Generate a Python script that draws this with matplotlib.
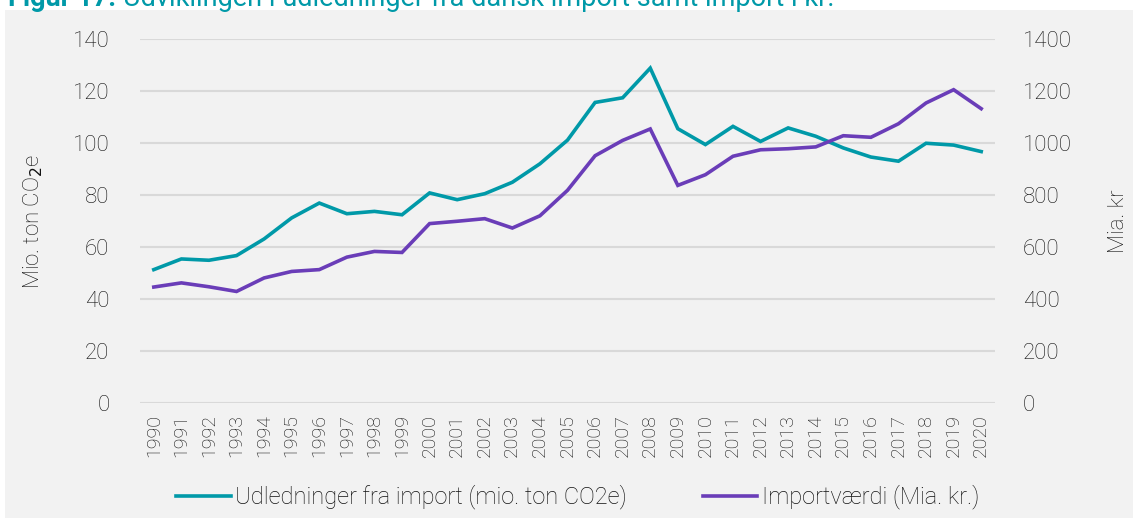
import matplotlib.pyplot as plt
from matplotlib.patches import Rectangle
import numpy as np

plt.rcParams['font.family'] = ['Roboto', 'DejaVu Sans']

years = list(range(1990, 2021))
udledning = [51.3, 55.4, 54.9, 56.7, 63.1, 71.2, 76.9, 72.8, 73.7, 72.4,
             80.8, 78.2, 80.5, 84.9, 92.0, 101.1, 115.6, 117.4, 128.8, 105.5,
             99.4, 106.4, 100.6, 105.8, 102.6, 98.1, 94.6, 93.0, 99.9, 99.2, 96.7]
importvaerdi = [446, 462, 447, 429, 481, 506, 513, 561, 583, 579,
                690, 699, 709, 673, 720, 818, 951, 1010, 1054, 837,
                878, 949, 974, 978, 985, 1028, 1022, 1074, 1154, 1205, 1132]

teal = '#0099A8'
purple = '#6A3DB8'
txt = '#111111'
lw_font = 'light'

fig = plt.figure(figsize=(11.33, 5.18), dpi=100)
fig.patches.append(Rectangle((5/1133, 0), 1, 1 - 10/518, transform=fig.transFigure,
                             facecolor='#F2F2F2', edgecolor='none', zorder=-5))

ax = fig.add_axes([140/1133, 1 - 403/518, 855/1133, 364/518])
ax.set_facecolor('none')
ax2 = ax.twinx()
ax2.set_facecolor('none')

x = np.arange(len(years))
l1, = ax.plot(x, udledning, color=teal, lw=2.6, solid_joinstyle='miter',
              label='Udledninger fra import (mio. ton CO2e)')
l2, = ax2.plot(x, importvaerdi, color=purple, lw=2.6, solid_joinstyle='miter',
               label='Importværdi (Mia. kr.)')

ax.set_ylim(0, 140)
ax.set_yticks(range(0, 141, 20))
ax2.set_ylim(0, 1400)
ax2.set_yticks(range(0, 1401, 200))
ax.set_xlim(-0.5, len(years) - 0.5)
ax.set_xticks(x)
ax.set_xticklabels(years, rotation=90)
ax.yaxis.grid(True, color='#D9D9D9', lw=1.5)
ax.set_axisbelow(True)

for a in (ax, ax2):
    for s in a.spines.values():
        s.set_visible(False)
    a.tick_params(length=0, labelsize=16, labelcolor=txt)
    for lab in a.get_yticklabels() + a.get_xticklabels():
        lab.set_fontweight(lw_font)
ax.tick_params(axis='y', pad=22)
ax.tick_params(axis='x', pad=8, labelsize=14)
ax2.tick_params(axis='y', pad=20)

# akse-titler som fri tekst
fig.text(33/1133, 1 - 221/518, 'Mio. ton CO$_2$e', rotation=90, fontsize=16, color=txt,
         fontweight=lw_font, ha='center', va='center')
fig.text(1119/1133, 1 - 221/518, 'Mia. kr', rotation=90, fontsize=16, color=txt,
         fontweight=lw_font, ha='center', va='center')

leg = fig.legend(handles=[l1, l2], loc='center', bbox_to_anchor=(0.51, 1 - 497/518),
                 ncol=2, frameon=False, handlelength=2.3, columnspacing=3.2,
                 handletextpad=0.2, labelcolor=txt,
                 prop={'family': 'Roboto', 'size': 17, 'weight': lw_font})

t1 = fig.text(8/1133, 1 - 6/518, 'Figur 17:', color=teal, fontsize=19.5, fontweight='bold',
              va='baseline', ha='left')
fig.canvas.draw()
bb = t1.get_window_extent()
fig.text((bb.x1 + 7)/1133, 1 - 6/518, 'Udviklingen i udledninger fra dansk import samt import i kr.',
         color=teal, fontsize=19.5, va='baseline', ha='left')

fig.savefig('out.png', dpi=100)
